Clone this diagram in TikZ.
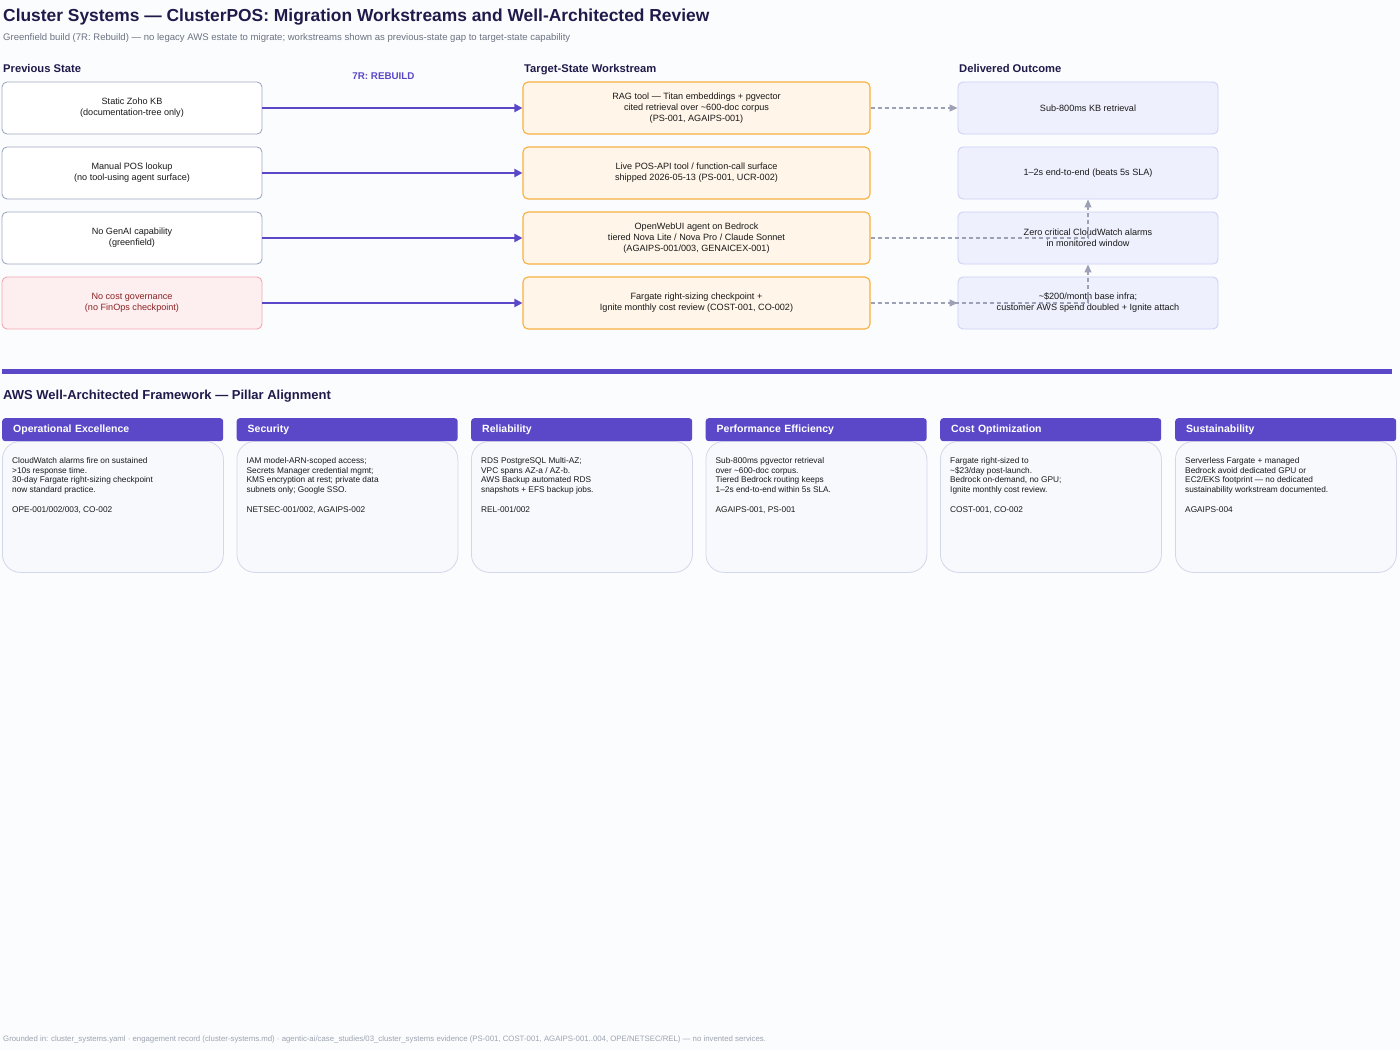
\documentclass[tikz,border=0pt]{standalone}
\usepackage{fontspec}
\setmainfont{Liberation Sans}
\usetikzlibrary{arrows.meta}
\definecolor{bgc}{HTML}{FBFCFE}
\definecolor{navy}{HTML}{1E1B4B}
\definecolor{purp}{HTML}{5A48C8}
\definecolor{subg}{HTML}{6B7280}
\definecolor{prevb}{HTML}{9FA9C2}
\definecolor{riskf}{HTML}{FDEEF0}
\definecolor{riskb}{HTML}{F2A7AF}
\definecolor{riskt}{HTML}{8B2323}
\definecolor{tgtf}{HTML}{FFF5E8}
\definecolor{tgtb}{HTML}{F7B040}
\definecolor{outf}{HTML}{EEF0FD}
\definecolor{outb}{HTML}{CDD1F5}
\definecolor{dgray}{HTML}{9CA1B5}
\definecolor{cardf}{HTML}{F8F9FD}
\definecolor{cardb}{HTML}{D3D7EA}
\definecolor{foot}{HTML}{9CA3AF}
\tikzset{
  basebox/.style={rounded corners=5pt, line width=0.9pt, minimum height=52pt, align=center,
    font=\fontsize{9.1}{11}\selectfont, text=black!90, inner sep=2pt},
  prevbox/.style={basebox, draw=prevb, fill=white, minimum width=260pt},
  riskbox/.style={basebox, draw=riskb, fill=riskf, minimum width=260pt, text=riskt},
  tgtbox/.style={basebox, draw=tgtb, fill=tgtf, minimum width=347pt, line width=1.1pt},
  outbox/.style={basebox, draw=outb, fill=outf, minimum width=260pt},
  purarrow/.style={draw=purp, line width=2pt, -{Triangle[length=8pt,width=8pt]}},
  grayarrow/.style={draw=dgray, line width=1.1pt, dash pattern=on 4pt off 3pt, -{Triangle[length=8pt,width=7pt]}},
  colhead/.style={anchor=base west, font=\fontsize{11.2}{13}\selectfont\bfseries, text=navy, inner sep=0pt},
  pillhead/.style={anchor=north west, fill=purp, rounded corners=3pt, minimum width=221pt, minimum height=23pt,
    text width=199pt, inner xsep=11pt, inner ysep=0pt, align=left, text=white,
    font=\fontsize{10.5}{12}\selectfont\bfseries},
  pillbody/.style={anchor=north west, draw=cardb, fill=cardf, line width=0.8pt, rounded corners=18pt,
    minimum width=221pt, minimum height=131pt, inner sep=0pt},
  pilltext/.style={anchor=north west, align=left, inner sep=0pt, text=black!90,
    font=\fontsize{8.3}{9.8}\selectfont},
}
\newcommand\pillarcard[4]{%
  \node[pillbody] (b#1) at (#2,441) {};
  \node[pillhead] (h#1) at (#2,418) {#3};
  \node[pilltext] (t#1) at (#2+10,457) {#4};
}
\begin{document}
\begin{tikzpicture}[x=1pt,y=-1pt]
\fill[bgc] (0,0) rectangle (1400,1050);
\useasboundingbox (0,0) rectangle (1400,1050);

% titles
\node[anchor=west, inner sep=0pt, text=navy, font=\fontsize{17.4}{20}\selectfont\bfseries] (title) at (3,17)
  {Cluster Systems — ClusterPOS: Migration Workstreams and Well-Architected Review};
\node[anchor=west, inner sep=0pt, text=subg, font=\fontsize{9.55}{11}\selectfont] (sub) at (3,38)
  {Greenfield build (7R: Rebuild) — no legacy AWS estate to migrate; workstreams shown as previous-state gap to target-state capability};

\node[colhead] (hp) at (3,72) {Previous State};
\node[colhead] (ht) at (524,72) {Target-State Workstream};
\node[colhead] (ho) at (959,72) {Delivered Outcome};
\node[inner sep=0pt, text=purp, font=\fontsize{9.8}{11}\selectfont\bfseries] (rb) at (383.5,76) {7R: REBUILD};

% previous state
\node[prevbox] (l1) at (132,108) {Static Zoho KB\\(documentation-tree only)};
\node[prevbox] (l2) at (132,173) {Manual POS lookup\\(no tool-using agent surface)};
\node[prevbox] (l3) at (132,238) {No GenAI capability\\(greenfield)};
\node[riskbox] (l4) at (132,303) {No cost governance\\(no FinOps checkpoint)};

% target
\node[tgtbox] (m1) at (696.5,108) {RAG tool — Titan embeddings + pgvector\\cited retrieval over \textasciitilde600-doc corpus\\(PS-001, AGAIPS-001)};
\node[tgtbox] (m2) at (696.5,173) {Live POS-API tool / function-call surface\\shipped 2026-05-13 (PS-001, UCR-002)};
\node[tgtbox] (m3) at (696.5,238) {OpenWebUI agent on Bedrock\\tiered Nova Lite / Nova Pro / Claude Sonnet\\(AGAIPS-001/003, GENAICEX-001)};
\node[tgtbox] (m4) at (696.5,303) {Fargate right-sizing checkpoint +\\Ignite monthly cost review (COST-001, CO-002)};

% outcomes
\node[outbox] (r1) at (1088,108) {Sub-800ms KB retrieval};
\node[outbox] (r2) at (1088,173) {1–2s end-to-end (beats 5s SLA)};
\node[outbox] (r3) at (1088,238) {Zero critical CloudWatch alarms\\in monitored window};
\node[outbox] (r4) at (1088,303) {\textasciitilde\$200/month base infra;\\customer AWS spend doubled + Ignite attach};

% connectors
\draw[purarrow] (l1.east) -- (m1.west);
\draw[purarrow] (l2.east) -- (m2.west);
\draw[purarrow] (l3.east) -- (m3.west);
\draw[purarrow] (l4.east) -- (m4.west);
\draw[grayarrow] (m1.east) -- (r1.west);
\draw[grayarrow] (m3.east) -- (r3.center) -- (r2.south);
\draw[grayarrow] (m4.east) -- (r4.center) -- (r3.south);
\draw[grayarrow] (m4.east) -- (r4.west);

% separator
\draw[purp, line width=5pt] (2,371) -- (1392,371);
\node[anchor=west, inner sep=0pt, text=navy, font=\fontsize{13}{15}\selectfont\bfseries] (wah) at (3,396)
  {AWS Well-Architected Framework — Pillar Alignment};

\pillarcard{1}{2}{Operational Excellence}{CloudWatch alarms fire on sustained\\>10s response time.\\30-day Fargate right-sizing checkpoint\\now standard practice.\\[9.8pt]OPE-001/002/003, CO-002}
\pillarcard{2}{236.5}{Security}{IAM model-ARN-scoped access;\\Secrets Manager credential mgmt;\\KMS encryption at rest; private data\\subnets only; Google SSO.\\[9.8pt]NETSEC-001/002, AGAIPS-002}
\pillarcard{3}{471}{Reliability}{RDS PostgreSQL Multi-AZ;\\VPC spans AZ-a / AZ-b.\\AWS Backup automated RDS\\snapshots + EFS backup jobs.\\[9.8pt]REL-001/002}
\pillarcard{4}{705.5}{Performance Efficiency}{Sub-800ms pgvector retrieval\\over \textasciitilde600-doc corpus.\\Tiered Bedrock routing keeps\\1–2s end-to-end within 5s SLA.\\[9.8pt]AGAIPS-001, PS-001}
\pillarcard{5}{940}{Cost Optimization}{Fargate right-sized to\\\textasciitilde\$23/day post-launch.\\Bedrock on-demand, no GPU;\\Ignite monthly cost review.\\[9.8pt]COST-001, CO-002}
\pillarcard{6}{1175}{Sustainability}{Serverless Fargate + managed\\Bedrock avoid dedicated GPU or\\EC2/EKS footprint — no dedicated\\sustainability workstream documented.\\[9.8pt]AGAIPS-004}

\node[anchor=west, inner sep=0pt, text=foot, font=\fontsize{7.8}{9}\selectfont] (ft) at (3,1039)
  {Grounded in: cluster\_systems.yaml · engagement record (cluster-systems.md) · agentic-ai/case\_studies/03\_cluster\_systems evidence (PS-001, COST-001, AGAIPS-001..004, OPE/NETSEC/REL) — no invented services.};
\end{tikzpicture}
\end{document}
